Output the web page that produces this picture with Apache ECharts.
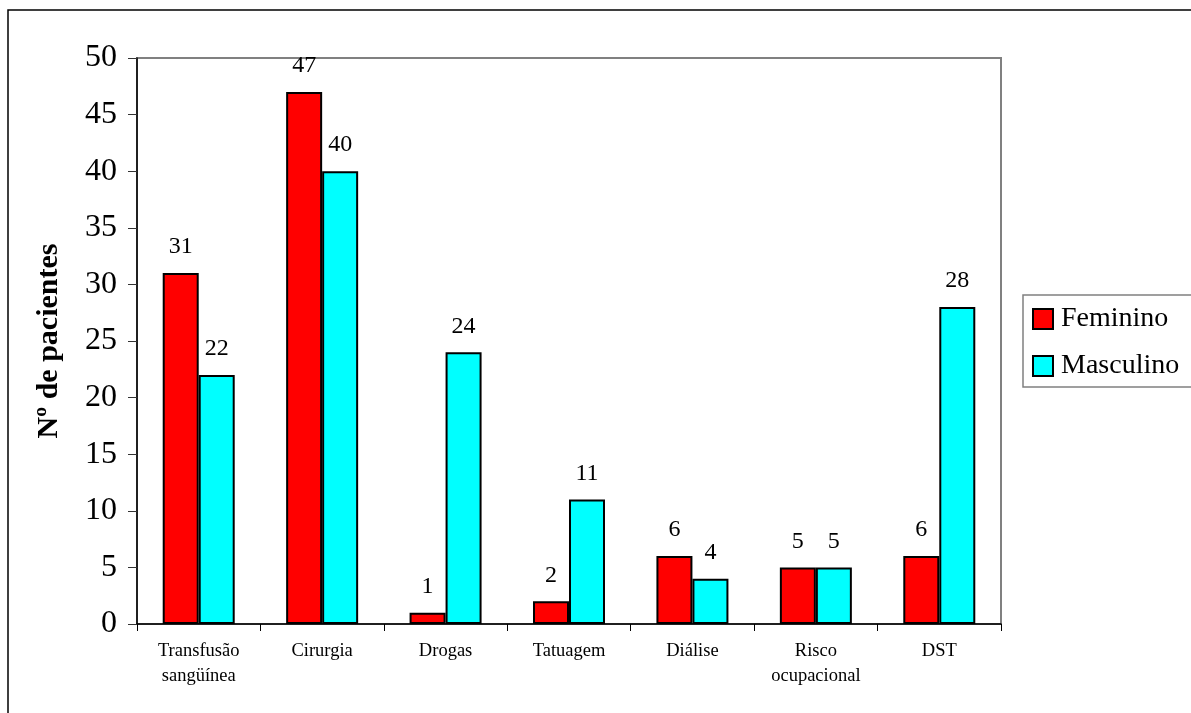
<!DOCTYPE html>
<html>
<head>
<meta charset="utf-8">
<script src="https://cdn.jsdelivr.net/npm/echarts@6/dist/echarts.min.js"></script>
<style>
  html, body { margin: 0; padding: 0; background: #fff; }
  #chart { width: 1191px; height: 713px; }
</style>
</head>
<body>
<div id="chart"></div>
<script>
// categorias (eixo x)
var categorias = ['Transfusão\nsangüínea', 'Cirurgia', 'Drogas', 'Tatuagem', 'Diálise', 'Risco\nocupacional', 'DST'];
var feminino = [31, 47, 1, 2, 6, 5, 6];
var masculino = [22, 40, 24, 11, 4, 5, 28];
var ticksY = { min: 0, max: 50, interval: 5 };

var fonte = "'Liberation Serif', 'Times New Roman', serif";

var myChart = echarts.init(document.getElementById('chart'));

var rotulo = {
  show: true,
  position: 'top',
  distance: 14,
  color: '#000',
  fontFamily: fonte,
  fontSize: 24
};

var option = {
  animation: false,
  backgroundColor: '#fff',
  textStyle: { fontFamily: fonte },
  graphic: [{
    type: 'rect',
    shape: { x: 8, y: 10, width: 1200, height: 720 },
    style: { fill: 'none', stroke: '#000', lineWidth: 1.5 },
    silent: true
  }],
  grid: {
    left: 137, top: 58, right: 190, bottom: 89,
    show: true,
    borderColor: '#808080',
    borderWidth: 2,
    backgroundColor: 'transparent'
  },
  legend: {
    orient: 'vertical',
    left: 1023,
    top: 295,
    padding: [10, 20, 7, 9],
    itemWidth: 20,
    itemHeight: 20,
    itemGap: 19,
    icon: 'rect',
    borderColor: '#808080',
    borderWidth: 1.5,
    textStyle: { fontFamily: fonte, fontSize: 28, color: '#000', lineHeight: 28, padding: [0, 0, 0, 3] },
    data: ['Feminino', 'Masculino']
  },
  xAxis: {
    type: 'category',
    data: categorias,
    axisLine: { lineStyle: { color: '#000', width: 1.5 } },
    axisTick: { show: true, length: 7, alignWithLabel: false, lineStyle: { color: '#000' } },
    axisLabel: {
      interval: 0,
      margin: 15,
      color: '#000',
      fontFamily: fonte,
      fontSize: 18.5,
      lineHeight: 25
    },
    splitLine: { show: false }
  },
  yAxis: {
    type: 'value',
    min: ticksY.min,
    max: ticksY.max,
    interval: ticksY.interval,
    name: 'Nº de pacientes',
    nameLocation: 'middle',
    nameGap: 73,
    nameTextStyle: { fontFamily: fonte, fontSize: 30, fontWeight: 'bold', color: '#000' },
    axisLine: { show: true, lineStyle: { color: '#000', width: 1.5 } },
    axisTick: { show: true, length: 9, lineStyle: { color: '#333' } },
    axisLabel: { margin: 20, color: '#000', fontFamily: fonte, fontSize: 32 },
    splitLine: { show: false }
  },
  series: [{
    name: 'Feminino',
    type: 'bar',
    data: feminino,
    barWidth: 36,
    barGap: '0%',
    itemStyle: { color: '#FF0000', borderColor: '#000', borderWidth: 2 },
    label: rotulo
  }, {
    name: 'Masculino',
    type: 'bar',
    data: masculino,
    barWidth: 36,
    itemStyle: { color: '#00FFFF', borderColor: '#000', borderWidth: 2 },
    label: rotulo
  }]
};

myChart.setOption(option);
</script>
</body>
</html>
